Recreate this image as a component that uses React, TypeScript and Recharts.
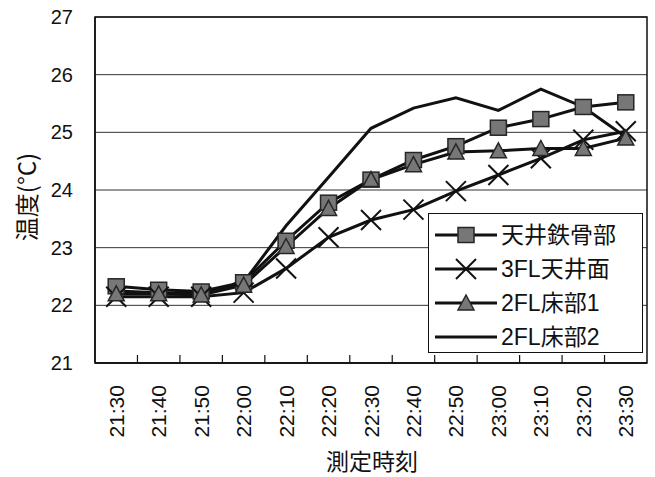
import { CartesianGrid, Legend, Line, LineChart, ReferenceArea, XAxis, YAxis } from "recharts";

// Temperature readings per measurement point, 10-minute steps
const TIMES = ["21:30", "21:40", "21:50", "22:00", "22:10", "22:20", "22:30", "22:40", "22:50", "23:00", "23:10", "23:20", "23:30"];
const STEEL = [22.33, 22.27, 22.24, 22.4, 23.12, 23.78, 24.18, 24.52, 24.76, 25.08, 25.23, 25.44, 25.52];
const CEILING_3F = [22.15, 22.15, 22.15, 22.22, 22.64, 23.18, 23.48, 23.66, 23.98, 24.26, 24.55, 24.87, 25.02];
const FLOOR_2F_1 = [22.2, 22.2, 22.18, 22.35, 23.02, 23.68, 24.18, 24.44, 24.66, 24.68, 24.72, 24.72, 24.9];
const FLOOR_2F_2 = [22.25, 22.22, 22.2, 22.4, 23.38, 24.22, 25.07, 25.42, 25.6, 25.38, 25.75, 25.44, 24.92];
const Y_TICKS = [21, 22, 23, 24, 25, 26, 27];

const INK = "#111";
const MARK_FILL = "#777";
const MARK_EDGE = "#262626";
const FONT = '"Liberation Sans", "Noto Sans CJK JP", sans-serif';
const JP_FONT = '"Noto Sans CJK JP", sans-serif';

type Marker = "square" | "cross" | "triangle" | "none";

const SERIES: { key: string; name: string; values: number[]; marker: Marker }[] = [
  { key: "steel", name: "天井鉄骨部", values: STEEL, marker: "square" },
  { key: "ceiling3f", name: "3FL天井面", values: CEILING_3F, marker: "cross" },
  { key: "floor2f1", name: "2FL床部1", values: FLOOR_2F_1, marker: "triangle" },
  { key: "floor2f2", name: "2FL床部2", values: FLOOR_2F_2, marker: "none" },
];

const data = TIMES.map((time, i) => {
  const row: Record<string, number | string> = { i, time };
  SERIES.forEach((s) => (row[s.key] = s.values[i]));
  return row;
});

// category centres get a label, category boundaries get a small inward tick
const X_TICKS = TIMES.flatMap((_, i) => (i === 0 ? [i] : [i - 0.5, i]));

function MarkerShape({ kind, cx, cy }: { kind: Marker; cx: number; cy: number }) {
  if (kind === "square") {
    return <rect x={cx - 8} y={cy - 7.5} width={16} height={15} fill={MARK_FILL} stroke={MARK_EDGE} strokeWidth={1.5} />;
  }
  if (kind === "cross") {
    return (
      <g stroke={INK} strokeWidth={2}>
        <line x1={cx - 10} y1={cy - 10} x2={cx + 10} y2={cy + 10} />
        <line x1={cx - 10} y1={cy + 10} x2={cx + 10} y2={cy - 10} />
      </g>
    );
  }
  if (kind === "triangle") {
    return <polygon points={`${cx},${cy - 8} ${cx + 8},${cy + 7} ${cx - 8},${cy + 7}`} fill={MARK_FILL} stroke={MARK_EDGE} strokeWidth={1.5} />;
  }
  return null;
}

function TimeTick({ x, y, payload }: any) {
  const v = payload.value as number;
  if (!Number.isInteger(v)) {
    // y sits 2px under the axis line (tickMargin)
    return <line x1={x} y1={y - 2} x2={x} y2={y - 10} stroke={INK} strokeWidth={1.2} />;
  }
  const tx = x + 7.5;
  const ty = y + 20;
  return (
    <text x={tx} y={ty} transform={`rotate(-90 ${tx} ${ty})`} textAnchor="end" fontSize={21} fill={INK} fontFamily={FONT}>
      {TIMES[v]}
    </text>
  );
}

function SeriesLegend() {
  return (
    <div style={{ border: `1px solid ${INK}`, background: "#fff", padding: "4px 0 2px 6px", boxSizing: "border-box", width: 215, height: 140 }}>
      {SERIES.map((s) => (
        <div key={s.key} style={{ display: "flex", alignItems: "center", height: 34 }}>
          <svg width={62} height={24} style={{ flexShrink: 0 }}>
            <line x1={0} y1={12} x2={62} y2={12} stroke={INK} strokeWidth={3} />
            <MarkerShape kind={s.marker} cx={31} cy={12} />
          </svg>
          <span style={{ marginLeft: 4, fontSize: 23, fontFamily: FONT, color: INK, lineHeight: 1 }}>{s.name}</span>
        </div>
      ))}
    </div>
  );
}

export default function App() {
  return (
    <div style={{ position: "absolute", left: 0, top: 0, background: "#fff" }}>
      <LineChart width={655} height={477} data={data} margin={{ top: 17, right: 8, bottom: 0, left: 0 }}>
        <CartesianGrid vertical={false} stroke="#333" strokeWidth={1} />
        <XAxis
          dataKey="i"
          type="number"
          domain={[-0.5, 12.5]}
          ticks={X_TICKS}
          interval={0}
          height={114}
          tickLine={false}
          tickSize={0}
          tickMargin={2}
          axisLine={{ stroke: INK, strokeWidth: 1.5 }}
          tick={<TimeTick />}
          label={{
            content: () => (
              <text x={372} y={460} textAnchor="middle" dominantBaseline="central" fontSize={23} fill={INK} fontFamily={JP_FONT}>
                測定時刻
              </text>
            ),
          }}
        />
        <YAxis
          domain={[21, 27]}
          ticks={Y_TICKS}
          interval={0}
          width={95}
          tickLine={false}
          tickSize={0}
          tickMargin={22}
          axisLine={{ stroke: INK, strokeWidth: 1.5 }}
          tick={{ fill: INK, fontSize: 20, fontFamily: FONT }}
          label={{
            content: () => (
              <text x={25} y={197} transform="rotate(-90 25 197)" textAnchor="middle" dominantBaseline="central" fontSize={24} fill={INK} fontFamily={JP_FONT}>
                温度(°C)
              </text>
            ),
          }}
        />
        <ReferenceArea x1={-0.5} x2={12.5} y1={21} y2={27} fill="none" stroke={INK} strokeWidth={1.5} ifOverflow="visible" />
        {SERIES.map((s) => (
          <Line
            key={s.key}
            dataKey={s.key}
            name={s.name}
            type="linear"
            stroke={INK}
            strokeWidth={3}
            dot={s.marker === "none" ? false : (p: any) => <MarkerShape key={p.index} kind={s.marker} cx={p.cx} cy={p.cy} />}
            activeDot={false}
            isAnimationActive={false}
          />
        ))}
        <Legend
          layout="vertical"
          align="center"
          verticalAlign="middle"
          content={<SeriesLegend />}
          wrapperStyle={{ left: 428, top: 213, width: 215, height: 140 }}
        />
      </LineChart>
    </div>
  );
}
